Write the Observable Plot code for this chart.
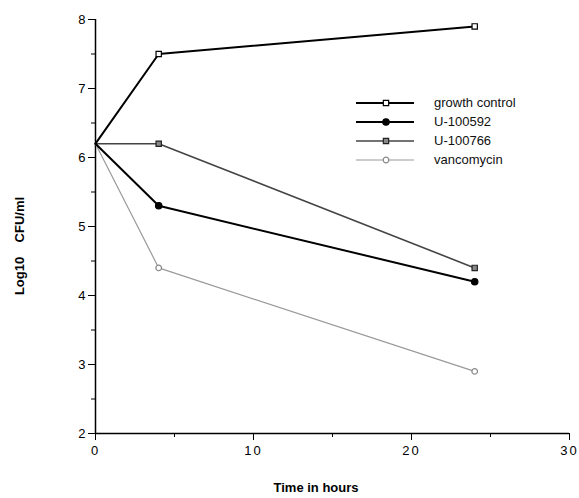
<!DOCTYPE html>
<html><head><meta charset="utf-8">
<script src="https://cdn.jsdelivr.net/npm/d3@7"></script>
<script src="https://cdn.jsdelivr.net/npm/@observablehq/plot@0.6"></script>
<style>
body{margin:0;background:#fff;font-family:"Liberation Sans",Arial,sans-serif;}
#wrap{position:relative;width:579px;height:498px;}
#legend{position:absolute;left:356px;top:93px;font:13px "Liberation Sans",Arial,sans-serif;color:#111;}
#legend .row{height:19px;display:flex;align-items:center;}
#legend svg{margin-right:20px;}
</style></head>
<body><div id="wrap"><div id="legend"></div></div>
<script>
const times = [0, 4, 24];
const seriesNames = ["growth control", "U-100592", "U-100766", "vancomycin"];
const growthControl = [6.2, 7.5, 7.9];
const u100592 = [6.2, 5.3, 4.2];
const u100766 = [6.2, 6.2, 4.4];
const vancomycin = [6.2, 4.4, 2.9];
const xTicks = [0, 10, 20, 30];
const yTicks = [2, 3, 4, 5, 6, 7, 8];
const xLabel = "Time in hours";
const yLabel = "Log10    CFU/ml";

const styles = {
  "growth control": {stroke: "#000", width: 2, symbol: "square", fill: "#fff", mstroke: "#000", r: 3},
  "U-100592": {stroke: "#000", width: 2, symbol: "circle", fill: "#000", mstroke: "#000", r: 3.2},
  "U-100766": {stroke: "#444", width: 1.6, symbol: "square", fill: "#888", mstroke: "#222", r: 3},
  "vancomycin": {stroke: "#999", width: 1.2, symbol: "circle", fill: "#fff", mstroke: "#888", r: 2.8}
};
const values = [growthControl, u100592, u100766, vancomycin];
const data = seriesNames.flatMap((s, i) => times.map((t, j) => ({series: s, t, v: values[i][j]})));

const marks = [
  Plot.axisY({ticks: d3.range(2, 8.01, 0.5), tickSize: 4, tickFormat: () => "", label: null}),
  Plot.axisY({ticks: yTicks, tickSize: 7, tickPadding: 3, fontSize: 13, tickFormat: d3.format("d"), label: null}),
  Plot.axisX({ticks: d3.range(0, 30.01, 5), tickSize: 4, tickFormat: () => "", label: null}),
  Plot.axisX({ticks: xTicks, tickSize: 7, tickPadding: 5, fontSize: 13, tickFormat: d3.format("d"), label: null}),
  Plot.ruleX([0], {stroke: "#000", strokeWidth: 1.5}),
  Plot.ruleY([2], {stroke: "#000", strokeWidth: 1.5}),
];
seriesNames.slice().reverse().forEach(s => {
  const st = styles[s];
  const d = data.filter(e => e.series === s);
  marks.push(Plot.line(d, {x: "t", y: "v", stroke: st.stroke, strokeWidth: st.width}));
  marks.push(Plot.dot(d.filter(e => e.t !== 0), {x: "t", y: "v", symbol: () => st.symbol, r: st.r, fill: st.fill, stroke: st.mstroke, strokeWidth: 1.2}));
});

const chart = Plot.plot({
  width: 579, height: 498,
  marginLeft: 95, marginRight: 10, marginTop: 19, marginBottom: 65,
  style: {fontFamily: "Liberation Sans, Arial, sans-serif", fontSize: "13px", color: "#000", background: "#fff"},
  x: {domain: [0, 30]},
  y: {domain: [2, 8]},
  symbol: {type: "identity"},
  marks
});
const svg = d3.select(chart);
svg.selectAll("[aria-label='x-axis tick label'] text").style("letter-spacing", "2px");
svg.append("text").attr("x", 316).attr("y", 492).attr("text-anchor", "middle")
  .style("font-weight", "bold").style("font-size", "13px").text(xLabel);
svg.append("text").attr("transform", "translate(24,246) rotate(-90)").attr("text-anchor", "middle")
  .style("font-weight", "bold").style("font-size", "13px").style("white-space", "pre").text(yLabel);
document.getElementById("wrap").prepend(chart);

const leg = d3.select("#legend");
seriesNames.forEach(s => {
  const st = styles[s];
  const row = leg.append("div").attr("class", "row");
  const sv = row.append("svg").attr("width", 58).attr("height", 12);
  sv.append("line").attr("x1", 0).attr("x2", 58).attr("y1", 6).attr("y2", 6).attr("stroke", st.stroke).attr("stroke-width", st.width);
  const sym = st.symbol === "square" ? d3.symbolSquare : d3.symbolCircle;
  sv.append("path").attr("d", d3.symbol(sym, Math.PI * st.r * st.r)()).attr("transform", "translate(30,6)")
    .attr("fill", st.fill).attr("stroke", st.mstroke).attr("stroke-width", 1.2);
  row.append("span").text(s);
});
</script></body></html>
